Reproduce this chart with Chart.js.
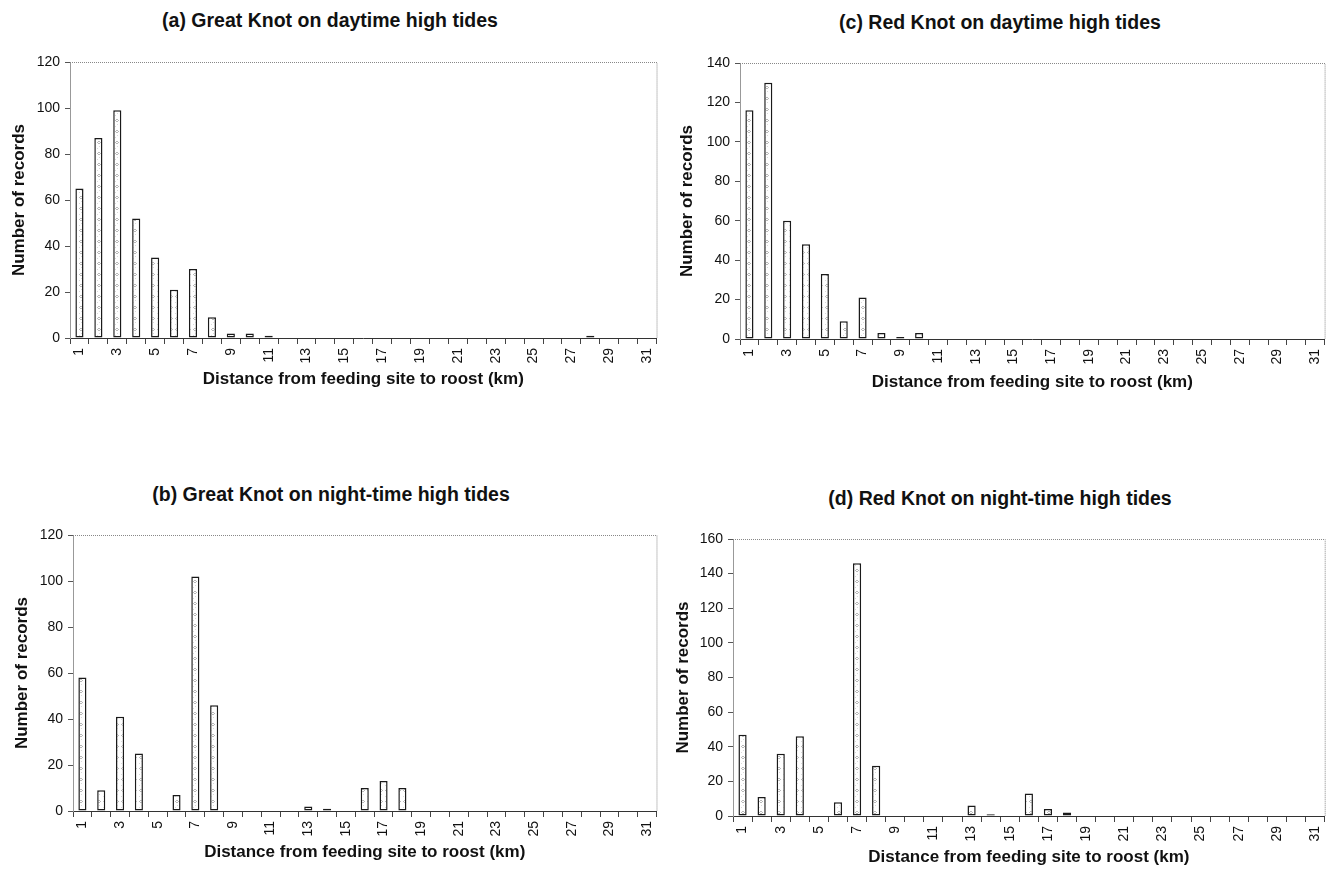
<!DOCTYPE html>
<html>
<head>
<meta charset="utf-8">
<script src="https://cdn.jsdelivr.net/npm/chart.js@4"></script>
<style>
  body { margin: 0; background: #fff; width: 1336px; height: 871px; position: relative; overflow: hidden; }
  .panel { position: absolute; width: 668px; }
  .ttl { position: absolute; font: bold 19.5px "Liberation Sans", Arial, sans-serif; color: #111; white-space: nowrap; transform: translate(-50%, -50%); }
</style>
</head>
<body>
<div class="ttl" style="left:330px; top:20px;">(a) Great Knot on daytime high tides</div>
<div class="ttl" style="left:1000px; top:22px;">(c) Red Knot on daytime high tides</div>
<div class="ttl" style="left:331px; top:494px;">(b) Great Knot on night-time high tides</div>
<div class="ttl" style="left:1000px; top:498px;">(d) Red Knot on night-time high tides</div>

<div class="panel" style="left:0; top:40px; height:360px;"><canvas id="chartA"></canvas></div>
<div class="panel" style="left:668px; top:40px; height:360px;"><canvas id="chartC"></canvas></div>
<div class="panel" style="left:0; top:512px; height:359px;"><canvas id="chartB"></canvas></div>
<div class="panel" style="left:668px; top:512px; height:359px;"><canvas id="chartD"></canvas></div>

<script>
// distance classes (km)
const distances = ['1','2','3','4','5','6','7','8','9','10','11','12','13','14','15','16',
                   '17','18','19','20','21','22','23','24','25','26','27','28','29','30','31'];

// number of records per distance class
const greatKnotDay   = [65, 87, 99, 52, 35, 21, 30, 9, 2, 2, 1, 0, 0, 0, 0, 0,
                        0, 0, 0, 0, 0, 0, 0, 0, 0, 0, 0, 1, 0, 0, 0];
const greatKnotNight = [58, 9, 41, 25, 0, 7, 102, 46, 0, 0, 0, 0, 2, 1, 0, 10,
                        13, 10, 0, 0, 0, 0, 0, 0, 0, 0, 0, 0, 0, 0, 0];
const redKnotDay     = [116, 130, 60, 48, 33, 9, 21, 3, 1, 3, 0, 0, 0, 0, 0, 0,
                        0, 0, 0, 0, 0, 0, 0, 0, 0, 0, 0, 0, 0, 0, 0];
const redKnotNight   = [47, 11, 36, 46, 0, 8, 146, 29, 0, 0, 0, 0, 6, 1, 0, 13,
                        4, 2, 0, 0, 0, 0, 0, 0, 0, 0, 0, 0, 0, 0, 0];

const yMax = { a: 120, b: 120, c: 140, d: 160 };

const FONT = '"Liberation Sans", Arial, sans-serif';

// speckled grey fill like the scanned bars
function barPattern() {
    const c = document.createElement('canvas');
    c.width = 6; c.height = 11;
    const g = c.getContext('2d');
    g.fillStyle = '#fff';
    g.fillRect(0, 0, 6, 11);
    g.fillStyle = '#b8b8b8';
    g.fillRect(2, 2, 2, 1);
    g.fillRect(1, 3, 1, 1);
    g.fillRect(4, 3, 1, 1);
    g.fillRect(2, 4, 2, 1);
    g.fillStyle = '#dadada';
    g.fillRect(3, 7, 1, 1);
    g.fillRect(1, 9, 1, 1);
    return g.createPattern(c, 'repeat');
}

// dotted top and right edge of the plot area
const frame = {
    id: 'frame',
    afterDraw(chart) {
        const { ctx, chartArea: a } = chart;
        ctx.save();
        ctx.strokeStyle = '#888';
        ctx.lineWidth = 1;
        ctx.setLineDash([1, 1]);
        ctx.beginPath();
        ctx.moveTo(a.left, a.top + 0.5);
        ctx.lineTo(a.right + 0.5, a.top + 0.5);
        ctx.lineTo(a.right + 0.5, a.bottom);
        ctx.stroke();
        ctx.restore();
    }
};

function makeChart(id, values, max, box) {
    const ctx = document.getElementById(id).getContext('2d');
    return new Chart(ctx, {
        type: 'bar',
        data: {
            labels: distances,
            datasets: [{
                data: values,
                backgroundColor: barPattern(),
                borderColor: '#1a1a1a',
                borderWidth: 1.5,
                borderSkipped: false,
                barPercentage: 0.43,
                categoryPercentage: 1
            }]
        },
        options: {
            responsive: true,
            maintainAspectRatio: false,
            animation: false,
            layout: { padding: { top: box.top, right: box.right, left: 0, bottom: 0 } },
            plugins: {
                legend: { display: false },
                tooltip: { enabled: false }
            },
            scales: {
                x: {
                    afterFit: s => { s.height = box.xh; },
                    grid: { offset: true, drawOnChartArea: false, tickLength: 6, color: '#444' },
                    border: { display: true, color: '#333', width: 1 },
                    ticks: {
                        autoSkip: false,
                        minRotation: 90,
                        maxRotation: 90,
                        padding: 4,
                        color: '#111',
                        font: { family: FONT, size: 14 },
                        callback: function(value, index) {
                            return index % 2 === 0 ? this.getLabelForValue(value) : '';
                        }
                    },
                    title: {
                        display: true,
                        text: 'Distance from feeding site to roost (km)',
                        color: '#111',
                        font: { family: FONT, size: 17, weight: 'bold' },
                        padding: { top: 0, bottom: box.xtp }
                    }
                },
                y: {
                    min: 0,
                    max: max,
                    afterFit: s => { s.width = box.yw; },
                    grid: { drawOnChartArea: false, tickLength: 5, color: '#555' },
                    border: { display: true, color: '#999', width: 1 },
                    ticks: {
                        stepSize: 20,
                        padding: 5,
                        color: '#111',
                        font: { family: FONT, size: 14 }
                    },
                    title: {
                        display: true,
                        text: 'Number of records',
                        color: '#111',
                        font: { family: FONT, size: 17, weight: 'bold' },
                        padding: { top: box.ytp, bottom: 0 }
                    }
                }
            }
        },
        plugins: [frame]
    });
}

makeChart('chartA', greatKnotDay,   yMax.a, { top: 22, right: 8, xh: 62, yw: 70, xtp: 10, ytp: 9 });
makeChart('chartC', redKnotDay,     yMax.c, { top: 23, right: 3, xh: 61, yw: 72, xtp: 7,  ytp: 9 });
makeChart('chartB', greatKnotNight, yMax.b, { top: 23, right: 8, xh: 60, yw: 73, xtp: 8,  ytp: 12 });
makeChart('chartD', redKnotNight,   yMax.d, { top: 27, right: 3, xh: 55, yw: 65, xtp: 3,  ytp: 5 });
</script>
</body>
</html>
